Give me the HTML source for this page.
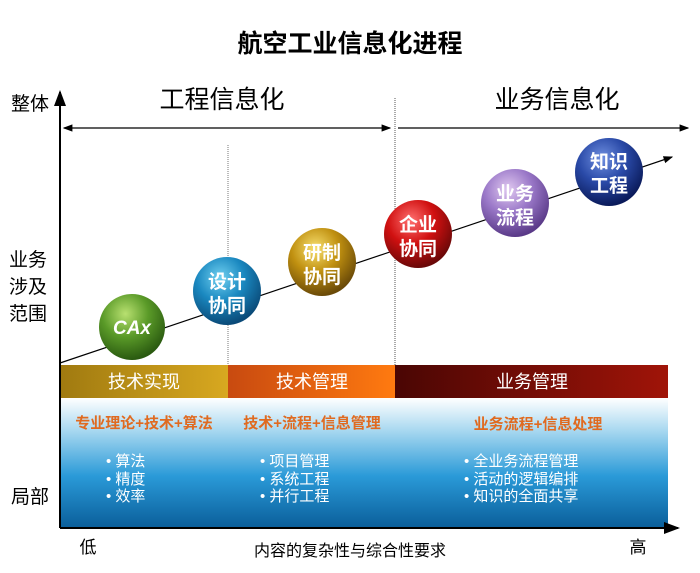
<!DOCTYPE html>
<html><head><meta charset="utf-8"><style>
body{margin:0;background:#fff;width:700px;height:568px;overflow:hidden}
text{font-family:"Liberation Sans","Noto Sans CJK SC",sans-serif}
</style></head><body>
<svg width="700" height="568" viewBox="0 0 700 568">
<defs>
<marker id="ah" markerWidth="8" markerHeight="8" refX="7" refY="4" orient="auto-start-reverse"><path d="M0,1 L8,4 L0,7z" fill="#000"/></marker>
<linearGradient id="b1" x1="0" x2="1"><stop offset="0" stop-color="#a07a10"/><stop offset="1" stop-color="#d8a820"/></linearGradient>
<linearGradient id="b2" x1="0" x2="1"><stop offset="0" stop-color="#c84a10"/><stop offset="1" stop-color="#ff7a10"/></linearGradient>
<linearGradient id="b3" x1="0" x2="1"><stop offset="0" stop-color="#4a0604"/><stop offset="1" stop-color="#a01408"/></linearGradient>
<linearGradient id="pn" x1="0" y1="0" x2="0" y2="1"><stop offset="0" stop-color="#ffffff"/><stop offset="0.25" stop-color="#a8d8f0"/><stop offset="0.6" stop-color="#2a9ad8"/><stop offset="1" stop-color="#0a5e9a"/></linearGradient>
<radialGradient id="g1" cx="0.4" cy="0.3" r="0.7"><stop offset="0" stop-color="#b8e070"/><stop offset="0.5" stop-color="#5a9a28"/><stop offset="1" stop-color="#2a5a10"/></radialGradient>
<radialGradient id="g2" cx="0.4" cy="0.3" r="0.7"><stop offset="0" stop-color="#70d0f0"/><stop offset="0.5" stop-color="#1a88c0"/><stop offset="1" stop-color="#0a4a78"/></radialGradient>
<radialGradient id="g3" cx="0.4" cy="0.3" r="0.7"><stop offset="0" stop-color="#f8e070"/><stop offset="0.5" stop-color="#c09010"/><stop offset="1" stop-color="#6a4a08"/></radialGradient>
<radialGradient id="g4" cx="0.4" cy="0.3" r="0.7"><stop offset="0" stop-color="#ff7070"/><stop offset="0.5" stop-color="#d01010"/><stop offset="1" stop-color="#6a0808"/></radialGradient>
<radialGradient id="g5" cx="0.4" cy="0.3" r="0.7"><stop offset="0" stop-color="#e0c8f0"/><stop offset="0.5" stop-color="#9a78c8"/><stop offset="1" stop-color="#5a3a88"/></radialGradient>
<radialGradient id="g6" cx="0.4" cy="0.3" r="0.7"><stop offset="0" stop-color="#7090e0"/><stop offset="0.5" stop-color="#2a4aa8"/><stop offset="1" stop-color="#0a1a5a"/></radialGradient>
</defs>
<text x="350" y="52" font-size="25" font-weight="bold" text-anchor="middle">航空工业信息化进程</text>
<text x="222" y="108" font-size="25" text-anchor="middle">工程信息化</text>
<text x="557" y="108" font-size="25" text-anchor="middle">业务信息化</text>
<line x1="64" y1="128" x2="390" y2="128" stroke="#000" stroke-width="1.2" marker-start="url(#ah)" marker-end="url(#ah)"/>
<line x1="398" y1="128" x2="688" y2="128" stroke="#000" stroke-width="1.2" marker-end="url(#ah)"/>
<line x1="395" y1="98" x2="395" y2="527" stroke="#555" stroke-dasharray="1,1"/>
<line x1="228" y1="145" x2="228" y2="527" stroke="#777" stroke-dasharray="1,1"/>
<rect x="60" y="398" width="608" height="130" fill="url(#pn)"/>
<rect x="60" y="365" width="168" height="33" fill="url(#b1)"/>
<rect x="228" y="365" width="167" height="33" fill="url(#b2)"/>
<rect x="395" y="365" width="273" height="33" fill="url(#b3)"/>
<g font-size="18" fill="#fff" text-anchor="middle"><text x="144" y="388">技术实现</text><text x="312" y="388">技术管理</text><text x="532" y="388">业务管理</text></g>
<g font-size="15" fill="#e06a20" font-weight="bold" text-anchor="middle"><text x="144" y="428">专业理论+技术+算法</text><text x="312" y="428">技术+流程+信息管理</text><text x="538" y="429">业务流程+信息处理</text></g>
<g font-size="15" fill="#fff"><text x="106" y="466">•  算法</text><text x="106" y="484">•  精度</text><text x="106" y="501">•  效率</text>
<text x="260" y="466">•  项目管理</text><text x="260" y="484">•  系统工程</text><text x="260" y="501">•  并行工程</text>
<text x="464" y="466">•  全业务流程管理</text><text x="464" y="484">•  活动的逻辑编排</text><text x="464" y="501">•  知识的全面共享</text></g>
<line x1="60" y1="528" x2="678" y2="528" stroke="#000" stroke-width="2" marker-end="url(#ah)"/>
<line x1="60" y1="528" x2="60" y2="92" stroke="#000" stroke-width="2" marker-end="url(#ah)"/>
<line x1="60" y1="363" x2="672" y2="157" stroke="#000" stroke-width="1.2" marker-end="url(#ah)"/>
<g text-anchor="middle" fill="#fff" font-weight="bold" font-size="19">
<circle cx="132" cy="327" r="33" fill="url(#g1)"/><text x="132" y="334" font-style="italic" font-size="19">CAx</text>
<circle cx="227" cy="291" r="34" fill="url(#g2)"/><text x="227" y="288">设计</text><text x="227" y="312">协同</text>
<circle cx="322" cy="262" r="34" fill="url(#g3)"/><text x="322" y="259">研制</text><text x="322" y="283">协同</text>
<circle cx="418" cy="234" r="34" fill="url(#g4)"/><text x="418" y="231">企业</text><text x="418" y="255">协同</text>
<circle cx="515" cy="203" r="34" fill="url(#g5)"/><text x="515" y="200">业务</text><text x="515" y="224">流程</text>
<circle cx="609" cy="172" r="34" fill="url(#g6)"/><text x="609" y="168">知识</text><text x="609" y="192">工程</text>
</g>
<g font-size="19" text-anchor="middle"><text x="30" y="110">整体</text><text x="28" y="266">业务</text><text x="28" y="293">涉及</text><text x="28" y="320">范围</text><text x="30" y="503">局部</text>
<text x="88" y="553" font-size="17">低</text><text x="638" y="553" font-size="17">高</text></g>
<text x="350" y="556" font-size="16" text-anchor="middle">内容的复杂性与综合性要求</text>
</svg>
</body></html>
